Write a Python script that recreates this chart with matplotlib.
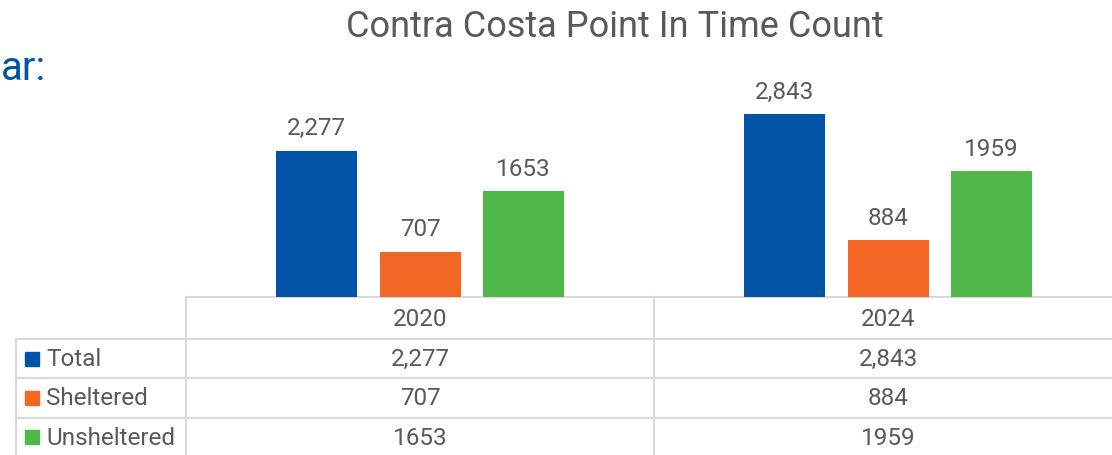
import matplotlib.pyplot as plt
from matplotlib.patches import Rectangle
from matplotlib.transforms import blended_transform_factory

years = ["2020", "2024"]
series = ["Total", "Sheltered", "Unsheltered"]
total = [2277, 2843]
sheltered = [707, 884]
unsheltered = [1653, 1959]
label_fmt = ["{:,}", "{}", "{}"]
colors = ["#0053A6", "#F36624", "#50B848"]

GRAY = "#595959"
GRID = "#D9D9D9"
W, H = 1112, 456

plt.rcParams["font.family"] = ["Roboto", "DejaVu Sans"]

fig = plt.figure(figsize=(W / 100, H / 100), dpi=100)

# overlay in pixel coords (y down) for table and loose text
tab = fig.add_axes([0, 0, 1, 1])
tab.set_xlim(0, W)
tab.set_ylim(H, 0)
tab.axis("off")

# bar axes: baseline at y=298 px, columns 186..1122 px
base_px = 298
top_px = 105
ax = fig.add_axes([186 / W, (H - base_px) / H, (1122 - 186) / W, (base_px - top_px) / H])
ax.set_xlim(-0.5, len(years) - 0.5)
ax.set_ylim(0, 3000)
ax.axis("off")

values = [total, sheltered, unsheltered]
width = 81 / 468
step = 103.5 / 468
for k, (name, vals) in enumerate(zip(series, values)):
    xs = [i + (k - 1) * step for i in range(len(years))]
    ax.bar(xs, vals, width=width, color=colors[k], zorder=3)
    for x, v in zip(xs, vals):
        ax.annotate(label_fmt[k].format(v), (x, v), xytext=(0, 8),
                    textcoords="offset points", ha="center", va="bottom",
                    fontsize=17.5, color=GRAY)

# title and cut-off slide heading
tab.text(615, 27, "Contra Costa Point In Time Count", ha="center", va="center",
         fontsize=26, color=GRAY)
tab.text(1, 68, "ar:", ha="left", va="center", fontsize=29,
         color="#0053A6")

# data table grid
row_y = [298, 340, 379, 419, 458]
lw = 1.5
tab.plot([186, W], [row_y[0], row_y[0]], color=GRID, lw=lw)
for y in row_y[1:-1]:
    tab.plot([16, W], [y, y], color=GRID, lw=lw)
tab.plot([186, 186], [row_y[0], H], color=GRID, lw=lw)
tab.plot([16, 16], [row_y[1], H], color=GRID, lw=lw)
tab.plot([654, 654], [row_y[0], H], color=GRID, lw=lw)

colx = blended_transform_factory(ax.transData, tab.transData)
fs = 17.5
for i, yr in enumerate(years):
    tab.text(i, (row_y[0] + row_y[1]) / 2 + 1, yr, transform=colx, ha="center",
             va="center", fontsize=fs, color=GRAY)
for k, (name, vals) in enumerate(zip(series, values)):
    yc = (row_y[k + 1] + row_y[k + 2]) / 2
    tab.add_patch(Rectangle((25, yc - 7), 14, 14, color=colors[k]))
    tab.text(46, yc, name, ha="left", va="center", fontsize=fs, color=GRAY)
    for i, v in enumerate(vals):
        tab.text(i, yc, label_fmt[k].format(v), transform=colx, ha="center",
                 va="center", fontsize=fs, color=GRAY)

fig.savefig("out.png", dpi=100)
